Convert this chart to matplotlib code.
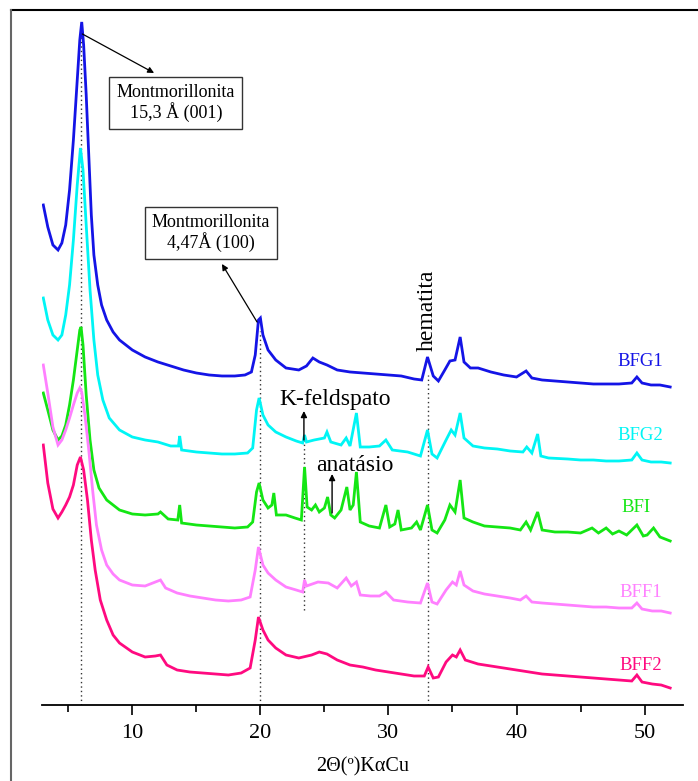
import matplotlib
matplotlib.use("Agg")
import matplotlib.pyplot as plt
from matplotlib.ticker import MultipleLocator
from matplotlib.lines import Line2D

plt.rcParams['font.family'] = ['Liberation Serif', 'DejaVu Serif']

# ---------------- data (2theta in degrees, intensity in a.u., offset stacked) ----------------
bfg1_x = [3.05, 3.4, 3.8, 4.2, 4.5, 4.8, 5.1, 5.4, 5.7, 5.9, 6.05, 6.2, 6.4, 6.6, 6.8, 7.0, 7.3, 7.6,
          8.0, 8.5, 9.0, 10.0, 11.0, 12.0, 13.0, 14.0, 15.0, 16.0, 17.0, 18.0, 18.8, 19.3, 19.6,
          19.85, 20.0, 20.2, 20.6, 21.2, 22.0, 23.0, 23.6, 24.1, 24.6, 25.2, 26.0, 27.0, 28.0,
          29.0, 30.0, 31.0, 32.0, 32.6, 33.05, 33.5, 33.9, 34.4, 34.8, 35.2, 35.6, 35.9, 36.4,
          37.0, 38.0, 39.0, 40.0, 40.75, 41.2, 42.0, 43.0, 44.0, 45.0, 46.0, 47.0, 48.0, 49.0,
          49.4, 49.8, 50.5, 51.2, 52.0]
bfg1_y = [500, 478, 460, 455, 462, 480, 515, 565, 625, 665, 683, 660, 610, 550, 490, 450, 420, 400,
          385, 373, 365, 355, 348, 343, 339, 335, 332, 330, 329, 329, 330, 333, 350,
          385, 387, 370, 355, 345, 337, 335, 339, 347, 343, 340, 335, 333, 332,
          331, 330, 329, 326, 325, 348, 329, 324, 335, 344, 345, 368, 343, 337,
          337, 333, 330, 328, 334, 327, 325, 324, 323, 322, 321, 321, 321, 322,
          328, 322, 320, 320, 318]

bfg2_x = [3.05, 3.4, 3.8, 4.2, 4.5, 4.8, 5.1, 5.4, 5.7, 5.95, 6.15, 6.4, 6.7, 7.0, 7.3, 7.7, 8.2,
          9.0, 10.0, 11.0, 12.0, 13.0, 13.6, 13.7, 13.85, 15.0, 16.0, 17.0, 18.0, 19.0, 19.4,
          19.7, 19.9, 20.2, 20.6, 21.2, 22.0, 22.8, 23.3, 23.45, 23.6, 24.2, 25.0, 25.2, 25.5,
          26.3, 26.7, 27.0, 27.5, 27.8, 28.5, 29.3, 29.8, 30.3, 31.5, 32.5, 33.05, 33.4, 33.8,
          34.5, 34.9, 35.2, 35.6, 35.9, 36.6, 37.5, 38.5, 39.5, 40.5, 40.8, 41.2, 41.65, 41.9,
          42.5, 44.0, 45.0, 46.0, 47.0, 48.0, 49.0, 49.4, 49.8, 50.5, 51.3, 52.0]
bfg2_y = [407, 385, 370, 365, 370, 390, 420, 465, 520, 557, 535, 480, 415, 365, 330, 305, 287,
          275, 268, 265, 263, 259, 259, 269, 255, 253, 252, 251, 251, 252, 257,
          295, 307, 290, 280, 273, 268, 264, 262, 270, 263, 265, 267, 273, 263,
          260, 267, 259, 292, 258, 258, 259, 265, 255, 253, 249, 275, 251, 247,
          265, 275, 270, 292, 267, 259, 257, 256, 254, 253, 258, 252, 271, 249,
          247, 246, 245, 245, 244, 244, 245, 252, 245, 243, 243, 242]

bfi_x = [3.05, 3.4, 3.8, 4.2, 4.5, 4.8, 5.1, 5.4, 5.7, 5.9, 6.0, 6.15, 6.4, 6.7, 7.0, 7.4, 8.0,
         9.0, 10.0, 11.0, 12.0, 12.2, 12.8, 13.55, 13.7, 13.85, 15.0, 16.0, 17.0, 18.0, 19.0,
         19.4, 19.7, 19.9, 20.2, 20.6, 20.9, 21.05, 21.25, 22.0, 22.7, 23.2, 23.45, 23.65, 24.0,
         24.3, 24.6, 25.0, 25.25, 25.5, 25.8, 26.3, 26.75, 27.0, 27.25, 27.5, 27.8, 28.5, 29.3,
         29.8, 30.1, 30.5, 30.75, 31.0, 31.8, 32.2, 32.5, 33.05, 33.4, 33.8, 34.4, 34.8, 35.2,
         35.6, 35.9, 36.6, 37.5, 38.5, 39.5, 40.3, 40.75, 41.1, 41.65, 42.0, 43.0, 44.0, 45.0,
         45.9, 46.4, 47.0, 47.5, 48.0, 48.6, 49.4, 49.9, 50.2, 50.7, 51.2, 52.0]
bfi_y = [312, 295, 275, 265, 269, 280, 300, 325, 355, 375, 378, 360, 310, 265, 235, 217, 205,
         195, 191, 190, 191, 193, 186, 185, 200, 182, 180, 179, 178, 177, 178,
         183, 213, 222, 205, 197, 200, 212, 190, 190, 187, 185, 238, 198, 195,
         200, 193, 197, 208, 190, 187, 195, 218, 195, 200, 233, 183, 179, 177,
         200, 178, 181, 195, 175, 177, 183, 175, 200, 175, 172, 185, 200, 193,
         225, 187, 183, 179, 178, 177, 175, 183, 175, 193, 175, 173, 173, 172,
         177, 172, 177, 171, 174, 170, 180, 169, 170, 177, 168, 164]

bff1_x = [3.05, 3.4, 3.8, 4.2, 4.5, 4.8, 5.1, 5.4, 5.7, 5.9, 6.05, 6.3, 6.6, 6.9, 7.2, 7.6, 8.0,
          8.5, 9.0, 10.0, 11.0, 11.8, 12.2, 12.6, 13.5, 14.5, 15.5, 16.5, 17.5, 18.5, 19.2,
          19.6, 19.85, 20.2, 20.6, 21.2, 22.0, 22.8, 23.3, 23.45, 23.6, 24.5, 25.3, 26.0, 26.7,
          27.1, 27.5, 27.8, 28.6, 29.3, 29.8, 30.4, 31.5, 32.5, 33.05, 33.4, 33.8, 34.5, 35.0,
          35.3, 35.6, 35.9, 36.6, 37.5, 38.5, 39.5, 40.3, 40.75, 41.2, 42.0, 43.0, 44.0, 45.0,
          46.0, 47.0, 48.0, 49.0, 49.4, 49.8, 50.6, 51.3, 52.0]
bff1_y = [340, 312, 278, 260, 265, 275, 287, 300, 312, 317, 313, 290, 255, 215, 180, 155, 140,
          131, 125, 120, 119, 123, 125, 117, 112, 109, 107, 105, 104, 105, 108,
          135, 158, 140, 132, 125, 118, 115, 113, 125, 119, 123, 122, 117, 127,
          119, 123, 110, 109, 109, 113, 105, 103, 102, 122, 103, 101, 115, 123,
          120, 134, 120, 114, 111, 109, 107, 105, 109, 103, 102, 101, 100, 99,
          98, 98, 97, 97, 102, 96, 94, 94, 92]

bff2_x = [3.05, 3.4, 3.8, 4.2, 4.5, 4.8, 5.1, 5.4, 5.7, 5.95, 6.2, 6.5, 6.8, 7.1, 7.5, 8.0, 8.5,
          9.0, 10.0, 11.0, 11.8, 12.2, 12.7, 13.5, 14.5, 15.5, 16.5, 17.5, 18.5, 19.2, 19.6,
          19.85, 20.2, 20.6, 21.2, 22.0, 23.0, 24.0, 24.6, 25.2, 26.0, 27.0, 28.0, 29.0, 30.0,
          31.0, 32.0, 32.8, 33.1, 33.5, 33.9, 34.5, 35.0, 35.3, 35.6, 36.0, 37.0, 38.0, 39.0,
          40.0, 41.0, 42.0, 43.0, 44.0, 45.0, 46.0, 47.0, 48.0, 49.0, 49.4, 49.8, 50.6, 51.3, 52.0]
bff2_y = [260, 222, 196, 187, 193, 200, 208, 220, 240, 248, 235, 205, 165, 135, 105, 85, 70,
          62, 53, 48, 49, 50, 40, 35, 33, 32, 31, 30, 32, 37, 65,
          88, 75, 65, 57, 50, 47, 50, 53, 51, 45, 40, 38, 35, 33,
          31, 29, 29, 38, 27, 28, 43, 50, 48, 55, 45, 41, 39, 37,
          35, 33, 31, 30, 29, 28, 27, 26, 25, 24, 30, 23, 21, 20, 17]

series_names = ['BFG1', 'BFG2', 'BFI', 'BFF1', 'BFF2']
series_x = [bfg1_x, bfg2_x, bfi_x, bff1_x, bff2_x]
series_y = [bfg1_y, bfg2_y, bfi_y, bff1_y, bff2_y]
colors = ['#1414E6', '#00F5F5', '#14E614', '#FF80FF', '#FF0A80']
label_pos = [(49.7, 343), (49.7, 269), (49.3, 197), (49.7, 113), (49.7, 40)]

# reference lines (2theta) and their vertical extents
ref_lines = [(5.97, 0, 676), (20.0, 0, 374), (33.05, 0, 330), (23.4, 95, 265)]

# ---------------- figure ----------------
fig = plt.figure(figsize=(6.98, 7.81), dpi=100)
ax = fig.add_axes([0.0602, 0.0973, 0.9183, 0.8925])

for xs, ys, c in zip(series_x, series_y, colors):
    ax.plot(xs, ys, color=c, lw=2.0, solid_joinstyle='miter', zorder=3)

for name, (lx, ly), c in zip(series_names, label_pos, colors):
    ax.text(lx, ly, name, color=c, fontsize=13.5, ha='center', va='center')

for x0, y0, y1 in ref_lines:
    ax.plot([x0, x0], [y0, y1], color='#333333', lw=1.0, ls=(0, (1, 2.2)), zorder=2)

ax.set_xlim(2.95, 53.0)
ax.set_ylim(0, 697)

box = dict(boxstyle='square,pad=0.4', fc='white', ec='#333333', lw=1.0)
ax.annotate('', xy=(11.7, 632), xytext=(6.1, 671),
            arrowprops=dict(arrowstyle='-|>', color='black', lw=0.9, mutation_scale=9,
                            shrinkA=0, shrinkB=0))
ax.text(13.4, 602, 'Montmorillonita\n15,3 Å (001)', ha='center', va='center',
        fontsize=13, bbox=box, linespacing=1.1, zorder=5)
ax.annotate('', xy=(17.0, 441), xytext=(19.74, 383),
            arrowprops=dict(arrowstyle='-|>', color='black', lw=0.9, mutation_scale=9,
                            shrinkA=0, shrinkB=0))
ax.text(16.15, 472, 'Montmorillonita\n4,47Å (100)', ha='center', va='center',
        fontsize=13, bbox=box, linespacing=1.1, zorder=5)

ax.annotate('', xy=(23.4, 294), xytext=(23.4, 265),
            arrowprops=dict(arrowstyle='-|>', color='black', lw=1.0, mutation_scale=9,
                            shrinkA=0, shrinkB=0), zorder=6)
ax.text(25.8, 305, 'K-feldspato', ha='center', va='center', fontsize=17)
ax.annotate('', xy=(25.6, 231), xytext=(25.6, 192),
            arrowprops=dict(arrowstyle='-|>', color='black', lw=1.0, mutation_scale=9,
                            shrinkA=0, shrinkB=0), zorder=6)
ax.text(27.35, 239, 'anatásio', ha='center', va='center', fontsize=17)
ax.text(33.05, 395, 'hematita', ha='center', va='center', fontsize=17, rotation=90)

for s in ['left', 'right', 'top']:
    ax.spines[s].set_visible(False)
ax.spines['bottom'].set_linewidth(1.3)
ax.set_yticks([])
ax.xaxis.set_major_locator(MultipleLocator(10))
ax.xaxis.set_minor_locator(MultipleLocator(5))
ax.tick_params(axis='x', which='major', direction='out', length=7, width=1.2,
               labelsize=16, pad=7)
ax.tick_params(axis='x', which='minor', direction='out', length=5, width=1.2)
ax.set_xlabel('2Θ(º)KαCu', fontsize=14.5, labelpad=10)

# outer frame lines (top and left)
fig.add_artist(Line2D([0.0158, 1.0], [0.9872, 0.9872], color='black', lw=1.5))
fig.add_artist(Line2D([0.0158, 0.0158], [0.0, 0.9872], color='#666666', lw=1.5))

fig.savefig('out.png', dpi=100)
